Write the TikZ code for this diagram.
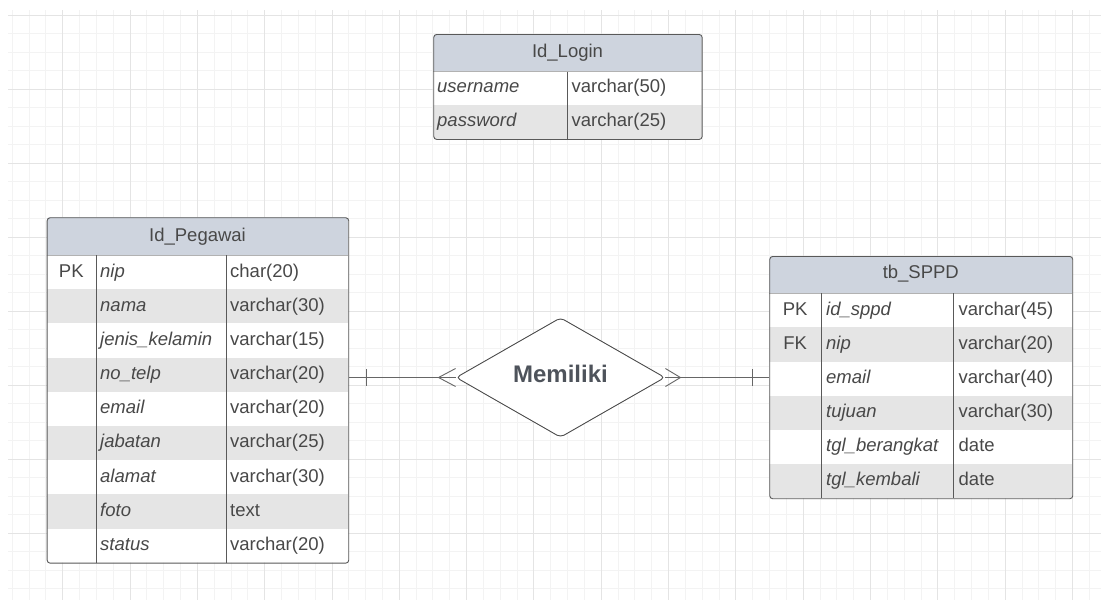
\documentclass[tikz,border=0pt]{standalone}
\usepackage{fontspec}
\setmainfont{Liberation Sans}
\usetikzlibrary{shapes.geometric,positioning}
\definecolor{hdrblue}{RGB}{206,212,222}
\definecolor{rowgray}{RGB}{229,229,229}
\definecolor{txtgray}{RGB}{72,72,72}
\definecolor{relgray}{RGB}{78,83,91}
\definecolor{gridminor}{RGB}{243,243,243}
\definecolor{gridmajor}{RGB}{228,228,228}
\begin{document}
\begin{tikzpicture}[x=1pt, y=-1pt,
    tbl/.style={draw=black!65, line width=0.9pt, rounded corners=3pt, inner sep=0, anchor=north west},
    colline/.style={draw=black!65, line width=0.8pt},
    hdrline/.style={draw=black!30, line width=0.8pt},
    hdrtxt/.style={text=txtgray, font=\fontsize{18.5}{20}\selectfont, anchor=base, inner sep=0},
    keytxt/.style={text=txtgray, font=\fontsize{18.5}{20}\selectfont, anchor=base, inner sep=0},
    fldtxt/.style={text=txtgray, font=\fontsize{18.5}{20}\selectfont\itshape, anchor=base west, inner sep=0},
    typtxt/.style={text=txtgray, font=\fontsize{18.5}{20}\selectfont, anchor=base west, inner sep=0},
    link/.style={draw=black!60, line width=0.9pt}]
        \useasboundingbox (0,0) rectangle (1101,600);
        \fill[white] (0,0) rectangle (1101,600);

        % background grid
        \foreach \k in {-7,...,57} \draw[gridminor, line width=0.9pt] ({130+16.83*\k},10) -- ({130+16.83*\k},600);
        \foreach \k in {-4,...,27} \draw[gridminor, line width=0.9pt] (8,{89+18.5*\k}) -- (1101,{89+18.5*\k});
        \foreach \k in {-4,0,...,56} \draw[gridmajor, line width=0.9pt] ({130+16.83*\k},10) -- ({130+16.83*\k},600);
        \foreach \k in {-4,0,...,24} \draw[gridmajor, line width=0.9pt] (8,{89+18.5*\k}) -- (1101,{89+18.5*\k});

        % Id_Login
        \begin{scope}
            \clip[rounded corners=3pt] (433.3,34) rectangle (701.7,139);
            \fill[white] (433.3,34) rectangle (701.7,139);
            \fill[hdrblue] (433.3,34) rectangle (701.7,71.7);
            \fill[rowgray] (433.3,105.4) rectangle (701.7,139);
        \end{scope}
        \draw[hdrline] (433.3,71.7) -- (701.7,71.7);
        \draw[colline] (567,71.7) -- (567,139);
        \node[tbl, minimum width=268.4pt, minimum height=105pt] (login) at (433.3,34) {};
        \node[hdrtxt] (login-title) at (567.5,57.5) {Id\_Login};
        \foreach \fl/\ty [count=\r from 0] in {username/varchar(50), password/varchar(25)} {
            \node[fldtxt] (login-f\r) at (437,{71.7+33.65*\r+21}) {\fl};
            \node[typtxt] (login-t\r) at (571.5,{71.7+33.65*\r+21}) {\ty};
        }

        % Id_Pegawai
        \begin{scope}
            \clip[rounded corners=3pt] (46.7,217.3) rectangle (348.3,562.7);
            \fill[white] (46.7,217.3) rectangle (348.3,562.7);
            \fill[hdrblue] (46.7,217.3) rectangle (348.3,255);
            \foreach \r in {1,3,5,7} \fill[rowgray] (46.7,{255+34.19*\r}) rectangle (348.3,{255+34.19*(\r+1)});
        \end{scope}
        \draw[hdrline] (46.7,255) -- (348.3,255);
        \draw[colline] (96,255) -- (96,562.7);
        \draw[colline] (226.7,255) -- (226.7,562.7);
        \node[tbl, minimum width=301.6pt, minimum height=345.4pt] (peg) at (46.7,217.3) {};
        \node[hdrtxt] (peg-title) at (197.5,241.5) {Id\_Pegawai};
        \foreach \ky/\fl/\ty [count=\r from 0] in {PK/nip/char(20), /nama/varchar(30), /jenis\_kelamin/varchar(15),
                /no\_telp/varchar(20), /email/varchar(20), /jabatan/varchar(25), /alamat/varchar(30),
                /foto/text, /status/varchar(20)} {
            \node[keytxt] (peg-k\r) at (71.3,{255+34.19*\r+22}) {\ky};
            \node[fldtxt] (peg-f\r) at (100,{255+34.19*\r+22}) {\fl};
            \node[typtxt] (peg-t\r) at (230,{255+34.19*\r+22}) {\ty};
        }

        % tb_SPPD
        \begin{scope}
            \clip[rounded corners=3pt] (769.3,256) rectangle (1072.3,498.3);
            \fill[white] (769.3,256) rectangle (1072.3,498.3);
            \fill[hdrblue] (769.3,256) rectangle (1072.3,293.3);
            \foreach \r in {1,3,5} \fill[rowgray] (769.3,{293.3+34.17*\r}) rectangle (1072.3,{293.3+34.17*(\r+1)});
        \end{scope}
        \draw[hdrline] (769.3,293.3) -- (1072.3,293.3);
        \draw[colline] (821,293.3) -- (821,498.3);
        \draw[colline] (953.3,293.3) -- (953.3,498.3);
        \node[tbl, minimum width=303pt, minimum height=242.3pt] (sppd) at (769.3,256) {};
        \node[hdrtxt] (sppd-title) at (920.8,278.5) {tb\_SPPD};
        \foreach \ky/\fl/\ty [count=\r from 0] in {PK/id\_sppd/varchar(45), FK/nip/varchar(20), /email/varchar(40),
                /tujuan/varchar(30), /tgl\_berangkat/date, /tgl\_kembali/date} {
            \node[keytxt] (sppd-k\r) at (795.2,{293.3+34.17*\r+21.8}) {\ky};
            \node[fldtxt] (sppd-f\r) at (826,{293.3+34.17*\r+21.8}) {\fl};
            \node[typtxt] (sppd-t\r) at (958.5,{293.3+34.17*\r+21.8}) {\ty};
        }

        % relationship
        \node[diamond, draw=black!70, fill=white, line width=0.9pt, minimum width=209pt, minimum height=117pt,
              inner sep=0, rounded corners=4pt, text=relgray, font=\fontsize{24}{26}\selectfont\bfseries,
              text height=17pt, text depth=8pt] (rel) at (560.5,377.5) {Memiliki};

        % connectors: one (bar) to many (crow's foot)
        \coordinate (peg-end) at (rel.west -| peg.east);
        \coordinate (sppd-end) at (rel.east -| sppd.west);
        \draw[link] (rel.west) -- (peg-end);
        \draw[link] ([xshift=17.4pt]peg-end) ++(0,-8.5) -- ++(0,17);
        \draw[link] (rel.west) ++(-17,0) -- ++(17,-9) (rel.west) ++(-17,0) -- ++(17,9);
        \draw[link] (rel.east) -- (sppd-end);
        \draw[link] ([xshift=-17pt]sppd-end) ++(0,-8.5) -- ++(0,17);
        \draw[link] (rel.east) ++(15,0) -- ++(-15,-9) (rel.east) ++(15,0) -- ++(-15,9);
    \end{tikzpicture}
\end{document}
